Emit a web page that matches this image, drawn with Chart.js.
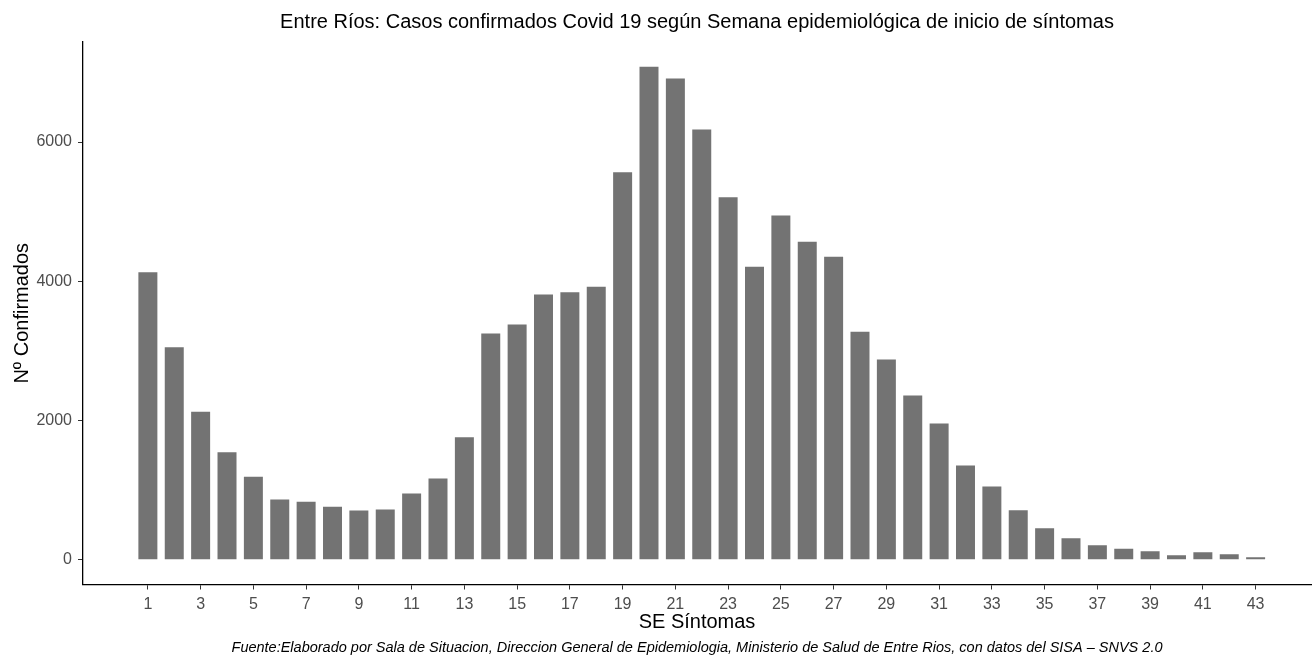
<!DOCTYPE html>
<html>
<head>
<meta charset="utf-8">
<script src="https://cdn.jsdelivr.net/npm/chart.js@4.4.1/dist/chart.umd.min.js"></script>
<style>
  body { margin: 0; background: #fff; }
  #wrap { width: 1312px; height: 657px; }
</style>
</head>
<body>
<div id="wrap"><canvas id="chart"></canvas></div>
<script>
// Semanas epidemiológicas (SE de inicio de síntomas)
const semanas = [1, 2, 3, 4, 5, 6, 7, 8, 9, 10, 11, 12, 13, 14, 15, 16, 17, 18, 19, 20, 21, 22,
                 23, 24, 25, 26, 27, 28, 29, 30, 31, 32, 33, 34, 35, 36, 37, 38, 39, 40, 41, 42, 43];
// Casos confirmados por semana
const casos = [4128, 3051, 2128, 1544, 1195, 867, 836, 764, 708, 723, 954, 1169, 1759, 3251, 3379,
               3810, 3841, 3923, 5564, 7082, 6913, 6179, 5205, 4210, 4944, 4569, 4354, 3277, 2877,
               2359, 1959, 1356, 1055, 711, 453, 310, 210, 158, 124, 67, 110, 81, 38];
const xTicks = [1, 3, 5, 7, 9, 11, 13, 15, 17, 19, 21, 23, 25, 27, 29, 31, 33, 35, 37, 39, 41, 43];
const yTicks = [0, 2000, 4000, 6000];

const titulo = 'Entre Ríos: Casos confirmados Covid 19 según Semana epidemiológica de inicio de síntomas';
const fuente = 'Fuente:Elaborado por Sala de Situacion, Direccion General de Epidemiologia, Ministerio de Salud de Entre Rios, con datos del SISA – SNVS 2.0';

const FONT = '"Liberation Sans", Arial, Helvetica, sans-serif';

const puntos = semanas.map((s, i) => ({ x: s, y: casos[i] }));

new Chart(document.getElementById('chart'), {
    type: 'bar',
    data: {
        datasets: [{
            data: puntos,
            backgroundColor: '#737373',
            borderWidth: 0,
            barPercentage: 0.72,
            categoryPercentage: 1
        }]
    },
    options: {
        responsive: true,
        maintainAspectRatio: false,
        animation: false,
        layout: { padding: { left: 0, right: 1, top: 0, bottom: 0 } },
        plugins: {
            legend: { display: false },
            tooltip: { enabled: false },
            title: {
                display: true,
                text: titulo,
                fullSize: false,
                color: '#000',
                font: { family: FONT, size: 20, weight: 'normal', lineHeight: 1 },
                padding: { top: 12, bottom: 10 }
            },
            subtitle: {
                display: true,
                text: fuente,
                position: 'bottom',
                fullSize: false,
                color: '#000',
                font: { family: FONT, size: 14.5, style: 'italic', weight: 'normal', lineHeight: 1 },
                padding: { top: 1, bottom: 2 }
            }
        },
        scales: {
            x: {
                type: 'linear',
                min: -1.46,
                max: 45.1,
                offset: false,
                afterBuildTicks: axis => { axis.ticks = xTicks.map(v => ({ value: v })); },
                afterFit: axis => { axis.height = 55; },
                grid: { display: true, drawOnChartArea: false, drawTicks: true, tickLength: 5, color: '#333', offset: false },
                border: { display: true, color: '#000', width: 1.3 },
                ticks: {
                    color: '#4d4d4d',
                    padding: 7,
                    maxRotation: 0,
                    autoSkip: false,
                    font: { family: FONT, size: 16, lineHeight: 1 },
                    callback: v => String(v)
                },
                title: {
                    display: true,
                    text: 'SE Síntomas',
                    color: '#000',
                    font: { family: FONT, size: 20, lineHeight: 1 },
                    padding: { top: 0, bottom: 7 }
                }
            },
            y: {
                min: -354,
                max: 7436,
                afterBuildTicks: axis => { axis.ticks = yTicks.map(v => ({ value: v })); },
                afterFit: axis => { axis.width = 83; },
                grid: { display: true, drawOnChartArea: false, drawTicks: true, tickLength: 5, color: '#333' },
                border: { display: true, color: '#000', width: 1.3 },
                ticks: {
                    color: '#4d4d4d',
                    padding: 6,
                    font: { family: FONT, size: 16, lineHeight: 1 },
                    callback: v => String(v)
                },
                title: {
                    display: true,
                    text: 'Nº Confirmados',
                    color: '#000',
                    font: { family: FONT, size: 20, lineHeight: 1 },
                    padding: { top: 12, bottom: 0 }
                }
            }
        }
    }
});
</script>
</body>
</html>
